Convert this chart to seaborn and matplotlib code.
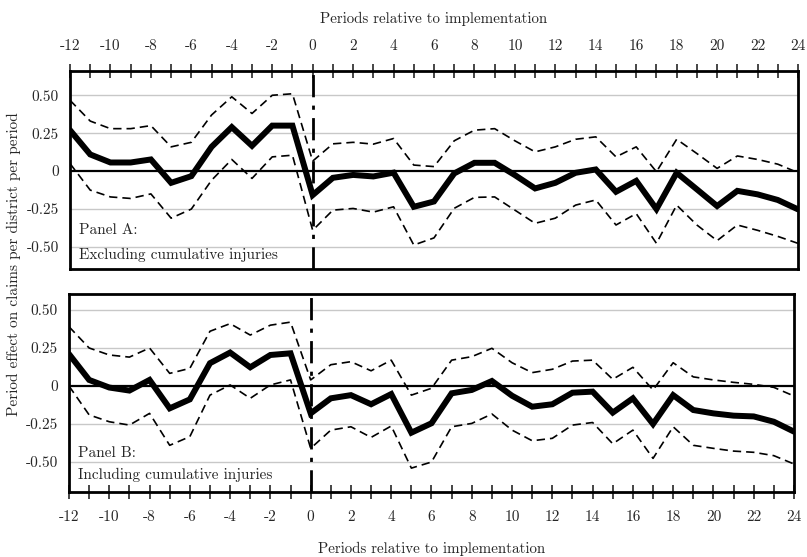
import matplotlib
matplotlib.use("Agg")
import matplotlib.pyplot as plt
import seaborn as sns
import numpy as np
import pandas as pd

periods = list(range(-12, 25))

est_a = [0.27, 0.11, 0.057, 0.057, 0.077, -0.077, -0.033, 0.16, 0.29, 0.167, 0.30, 0.30,
         -0.158, -0.044, -0.025, -0.035, -0.01, -0.235, -0.20, -0.015, 0.055, 0.055, -0.026,
         -0.114, -0.077, -0.011, 0.011, -0.136, -0.064, -0.25, -0.011, -0.12, -0.23, -0.13,
         -0.153, -0.19, -0.252]
up_a = [0.467, 0.33, 0.28, 0.28, 0.30, 0.16, 0.19, 0.37, 0.49, 0.38, 0.50, 0.51,
        0.066, 0.18, 0.19, 0.178, 0.215, 0.04, 0.03, 0.20, 0.27, 0.28, 0.20,
        0.127, 0.16, 0.21, 0.226, 0.094, 0.16, -0.004, 0.21, 0.116, 0.018, 0.10,
        0.077, 0.046, -0.01]
lo_a = [0.05, -0.125, -0.17, -0.18, -0.15, -0.31, -0.25, -0.06, 0.077, -0.048, 0.094, 0.105,
        -0.39, -0.257, -0.246, -0.27, -0.235, -0.487, -0.44, -0.245, -0.173, -0.17, -0.257,
        -0.344, -0.31, -0.224, -0.19, -0.355, -0.28, -0.476, -0.224, -0.355, -0.458, -0.355,
        -0.39, -0.43, -0.476]

est_b = [0.21, 0.04, -0.01, -0.03, 0.04, -0.147, -0.088, 0.15, 0.22, 0.123, 0.204, 0.215,
         -0.18, -0.081, -0.06, -0.12, -0.053, -0.307, -0.245, -0.048, -0.026, 0.033, -0.064,
         -0.136, -0.12, -0.044, -0.037, -0.175, -0.081, -0.25, -0.06, -0.158, -0.18, -0.195,
         -0.20, -0.235, -0.30]
up_b = [0.39, 0.25, 0.204, 0.19, 0.25, 0.083, 0.116, 0.36, 0.41, 0.335, 0.40, 0.42,
        0.04, 0.14, 0.16, 0.10, 0.17, -0.06, -0.015, 0.17, 0.193, 0.248, 0.153,
        0.088, 0.11, 0.164, 0.17, 0.044, 0.123, -0.026, 0.153, 0.06, 0.04, 0.024,
        0.011, -0.009, -0.066]
lo_b = [0.0, -0.19, -0.235, -0.257, -0.18, -0.39, -0.333, -0.06, 0.007, -0.081, 0.007, 0.04,
        -0.41, -0.29, -0.268, -0.338, -0.263, -0.54, -0.50, -0.268, -0.246, -0.184, -0.29,
        -0.36, -0.344, -0.257, -0.24, -0.38, -0.29, -0.476, -0.268, -0.39, -0.41, -0.428,
        -0.436, -0.458, -0.513]

ytick_vals = [0.5, 0.25, 0, -0.25, -0.5]
ytick_labels = ["0.50", "0.25", "0", "-0.25", "-0.50"]
xlabel = "Periods relative to implementation"
ylabel = "Period effect on claims per district per period"
panels = [("Panel A:", "Excluding cumulative injuries"),
          ("Panel B:", "Including cumulative injuries")]

sns.set_style("white")
plt.rcParams["font.family"] = ["cmr10", "DejaVu Serif"]
plt.rcParams["axes.unicode_minus"] = False
plt.rcParams["mathtext.fontset"] = "cm"

W, H = 807, 557
fig = plt.figure(figsize=(W / 100, H / 100), dpi=100)
ax_a = fig.add_axes([70 / W, 1 - 269 / H, 728 / W, 198 / H])
ax_b = fig.add_axes([69 / W, 1 - 492 / H, 725 / W, 198 / H])

datasets = [(ax_a, est_a, up_a, lo_a, (-0.645, 0.66), (-0.39, -0.55)),
            (ax_b, est_b, up_b, lo_b, (-0.697, 0.605), (-0.44, -0.585))]

for i, (ax, est, up, lo, ylim, ty) in enumerate(datasets):
    df = pd.DataFrame({"period": periods, "est": est, "up": up, "lo": lo})
    for y in [0.5, 0.25, -0.25, -0.5]:
        ax.axhline(y, color="#c8c8c8", lw=1.0, zorder=0)
    ax.axhline(0, color="black", lw=1.6, zorder=1)
    ax.axvline(0, color="black", lw=2.0, ls=(0, (8, 3, 1.5, 3)), zorder=1)
    sns.lineplot(data=df, x="period", y="up", ax=ax, color="black", lw=1.2,
                 linestyle=(0, (5, 3)), zorder=2)
    sns.lineplot(data=df, x="period", y="lo", ax=ax, color="black", lw=1.2,
                 linestyle=(0, (5, 3)), zorder=2)
    sns.lineplot(data=df, x="period", y="est", ax=ax, color="black", lw=4.3,
                 zorder=3, solid_joinstyle="miter")
    ax.set_xlim(-12, 24)
    ax.set_ylim(*ylim)
    ax.set_yticks(ytick_vals)
    ax.set_yticklabels(ytick_labels, fontsize=11)
    ax.tick_params(axis="y", length=0, pad=8)
    ax.set_xticks(periods)
    ax.set_xticklabels([str(p) if p % 2 == 0 else "" for p in periods], fontsize=11)
    ax.set_ylabel("")
    for s in ax.spines.values():
        s.set_linewidth(2.0)
        s.set_color("black")
    ax.text(-11.55, ty[0], panels[i][0], fontsize=11, va="center")
    ax.text(-11.55, ty[1], panels[i][1], fontsize=11, va="center")

ax_a.xaxis.tick_top()
ax_a.xaxis.set_label_position("top")
ax_a.tick_params(axis="x", which="both", direction="inout", length=10, width=1.2,
                 top=True, bottom=False, pad=8)
ax_a.set_xlabel(xlabel, fontsize=10.8, labelpad=12)

ax_b.tick_params(axis="x", which="both", direction="inout", length=10, width=1.2,
                 top=False, bottom=True, pad=8)
ax_b.set_xlabel(xlabel, fontsize=10.8, labelpad=13)

fig.text(14 / W, 1 - 264 / H, ylabel, rotation=90, fontsize=11, va="center", ha="center")

fig.savefig("out.png", dpi=100)
